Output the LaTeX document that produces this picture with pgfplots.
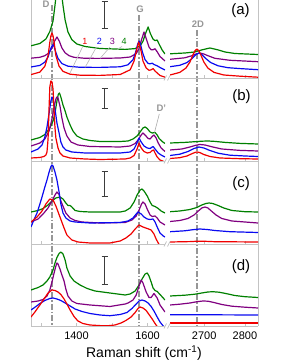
\documentclass[border=0pt]{standalone}
\usepackage{pgfplots}
\pgfplotsset{compat=1.18}
\usepackage{fontspec}
\setmainfont{Liberation Sans}
\definecolor{cred}{RGB}{240,0,0}
\definecolor{cblue}{RGB}{10,10,240}
\definecolor{cpurple}{RGB}{128,0,128}
\definecolor{cgreen}{RGB}{0,128,0}
\definecolor{axgray}{RGB}{195,195,195}
\definecolor{lgray}{RGB}{150,150,150}
\definecolor{bargray}{RGB}{60,60,60}
\pgfplotsset{
  mybase/.style={scale only axis, anchor=south west, ymin=0, ytick=\empty, no markers,
    axis x line*=bottom,
    every outer x axis line/.append style={-},
    every outer y axis line/.append style={-},
    axis line style={axgray, line width=0.8pt, -},
    tick style={axgray, line width=0.8pt}, tick align=inside, major tick length=3pt,
    xticklabels={,,,},
    xticklabel style={font=\fontsize{11}{12}\selectfont, yshift=-2pt},
    every axis plot/.append style={line width=1.2pt, line join=round}},
  myL/.style={mybase, width=134pt, xmin=1272, xmax=1649, axis y line*=left, xtick={1300,1400,1500,1600}},
  myR/.style={mybase, width=88pt, xmin=2616, xmax=2832, axis y line*=right, xtick={2700,2800}},
}
\begin{document}
\begin{tikzpicture}
\useasboundingbox (0pt,0pt) rectangle (281pt,363pt);
% dash-dot guide lines
\begin{scope}[x=1pt,y=1pt,lgray, line width=1.2pt, dash pattern=on 6pt off 2pt on 1.5pt off 2pt]
\draw (52,358) -- (52,37);
\draw (139,348) -- (139,37);
\draw (197,333) -- (197,37);
\end{scope}
% ---------------- panel (a)
\begin{axis}[myL, at={(31pt,285pt)}, height=78pt, ymax=78]
\addplot[cgreen] coordinates {(1272,32.2) (1297,34.5) (1314,39) (1325,46.5) (1334,57) (1339.5,72.7) (1345,90) (1351,98) (1356,90) (1362,72.7) (1368,58) (1376,46) (1387,38.3) (1401,34) (1424,31.5) (1466,29.5) (1508.5,29) (1537,28.6) (1565,29.4) (1579,32.1) (1587,36.7) (1594,44.3) (1601.5,51) (1608,44.3) (1615.5,38.8) (1621,37.4) (1627,38) (1632.5,33.8) (1641,28) (1649,24)};
\addplot[cpurple] coordinates {(1272,19.8) (1297,20.7) (1311,22.3) (1323,25.2) (1331,30) (1338,36.6) (1345,41) (1352,36.6) (1359,30) (1368,25.2) (1379,22.3) (1393,20.7) (1424,19.7) (1466,19.6) (1523,20) (1551,21) (1568,24.4) (1576,29.5) (1583,38.4) (1590,46) (1597,38.4) (1604,30.9) (1610,28.2) (1615.5,28.3) (1621,29.2) (1627,26.2) (1635,21.5) (1649,17)};
\addplot[cblue] coordinates {(1272,11) (1297,12.6) (1311,15.9) (1320,21) (1325,26.9) (1330,31.5) (1333,33) (1337,31.5) (1341,26.6) (1348,19.6) (1359,14.4) (1376,11.8) (1410,10.7) (1466,10.6) (1523,11.2) (1545,13.2) (1559,18.3) (1566,25.3) (1572,33.7) (1576,37) (1580,33.7) (1586,25.3) (1593,18.3) (1601.5,14.5) (1607,14.2) (1613,14.8) (1618,13.5) (1627,12.2) (1635,10.5) (1649,8)};
\addplot[cred] coordinates {(1272,3.4) (1297,5.9) (1311,11.8) (1320,22.4) (1325,35.7) (1328,42.2) (1331,45) (1334,42.2) (1337,35.7) (1342,22.4) (1351,11.8) (1362,6.6) (1382,3.8) (1410,2.8) (1466,2.6) (1523,3.5) (1551,8.2) (1562,17) (1568,26.5) (1575,36) (1582,26.5) (1587,17) (1596,10) (1604,7.7) (1610,8.2) (1615.5,9.4) (1621,7) (1627,5) (1635,2.5) (1649,0.8)};
\end{axis}
\begin{axis}[myR, at={(170pt,285pt)}, height=78pt, ymax=78]
\addplot[cgreen] coordinates {(2616,24.2) (2652.5,25) (2677,26) (2694,28.1) (2714,30) (2734,28.1) (2751,26) (2775,24.5) (2832,23.5)};
\addplot[cpurple] coordinates {(2616,18.7) (2652.5,20.2) (2670,22.3) (2680,24) (2689,25) (2699,24) (2709,22.3) (2726,19.7) (2763,17.7) (2832,16.3)};
\addplot[cblue] coordinates {(2616,11.3) (2640,12.7) (2657.5,15.4) (2670,19.4) (2680,23.5) (2687,25) (2694,23.5) (2704,19.4) (2716,15.4) (2734,12.2) (2758,10.3) (2788,9.4) (2832,8.3)};
\addplot[cred] coordinates {(2616,3) (2640,5.6) (2655,9.9) (2665,16) (2672,22.8) (2677,27.1) (2682,29) (2687,27.1) (2692,22.8) (2699,16) (2709,9.9) (2724,5.6) (2748,3) (2788,1.8) (2832,0.8)};
\end{axis}
% ---------------- panel (b)
\begin{axis}[myL, at={(31pt,202pt)}, height=83pt, ymax=83]
\addplot[cgreen] coordinates {(1272,21) (1297,23.5) (1311,26.5) (1325,33) (1334,40) (1339.5,48) (1345,60) (1349,67) (1352,68) (1356,64) (1362,56) (1368,50) (1373,44) (1382,36) (1390,30) (1401,25) (1418,22) (1438,20.5) (1466,19.5) (1523,19.5) (1545,20) (1559,22) (1570.5,25) (1579,29) (1587,33) (1593,34) (1599,32.5) (1607,29) (1613,28) (1621,28.5) (1627,26) (1632.5,22.5) (1641,19.5) (1649,17.5)};
\addplot[cpurple] coordinates {(1272,15) (1297,18) (1311,22) (1323,30) (1331,42) (1337,54) (1342,62) (1345,64) (1348,63) (1353.5,55) (1359,43) (1365,33) (1373,25) (1384.5,19) (1404,16) (1438,14.5) (1523,14) (1551,15) (1565,17.5) (1573,21) (1582,26) (1587,28) (1593,26) (1601.5,22.5) (1607,22) (1613,24.5) (1618,26) (1624,23) (1630,18) (1638,13) (1649,9.5)};
\addplot[cblue] coordinates {(1272,9) (1292,12) (1303,16) (1311,24) (1317,34) (1323,48) (1328,60) (1331,64) (1334,62) (1339.5,52) (1345,38) (1351,28) (1356,19) (1362,14) (1370,11) (1387,9) (1424,8) (1523,8) (1551,9) (1562,12) (1569,17) (1576,23) (1582,19) (1590,15) (1599,13) (1607,12.5) (1615.5,14.5) (1621,12) (1630,8) (1638,6) (1649,4)};
\addplot[cred] coordinates {(1272,3) (1297,3.5) (1308.5,4.5) (1314,6) (1317,9) (1320,22) (1323,55) (1325,74) (1328,80) (1331,79) (1334,72) (1337,50) (1339.5,33) (1342,23) (1348,13) (1353.5,8) (1362,5) (1382,3) (1424,2) (1466,1.5) (1537,2) (1551,3) (1562,5.5) (1570.5,12) (1576,18) (1582,13) (1590,9.5) (1599,8) (1607,8.5) (1613,10.5) (1617,11) (1621,8) (1627,4) (1635,1) (1649,-1)};
\end{axis}
\begin{axis}[myR, at={(170pt,202pt)}, height=83pt, ymax=83]
\addplot[cgreen] coordinates {(2616,18) (2652.5,18.6) (2677,19.3) (2694,19.8) (2709,20) (2726,19.6) (2751,18.6) (2788,17.6) (2832,17)};
\addplot[cpurple] coordinates {(2616,11) (2645,12) (2665,14) (2680,15.8) (2689,16.5) (2702,16) (2719,14.2) (2743,12) (2788,10.6) (2832,10)};
\addplot[cblue] coordinates {(2616,5.5) (2640,6.8) (2660,9.5) (2675,12.5) (2687,14) (2699,13) (2714,10.5) (2734,7.8) (2763,5.8) (2800,5) (2832,4.5)};
\addplot[cred] coordinates {(2616,2.5) (2640,3.3) (2657.5,5) (2670,7.3) (2677,8.5) (2682,9) (2689,8.5) (2699,6.5) (2714,4.5) (2739,3) (2788,2.3) (2832,2)};
\end{axis}
% ---------------- panel (c)
\begin{axis}[myL, at={(31pt,119pt)}, height=83pt, ymax=83]
\addplot[cgreen] coordinates {(1272,32) (1292,33.5) (1306,35.5) (1320,39) (1331,43) (1342,46) (1353.5,47) (1362,45) (1370,41) (1376,38.5) (1382,38.5) (1387,37) (1396,33.5) (1410,32.5) (1438,32) (1523,32) (1537,33) (1551,36) (1562,42) (1570.5,49) (1579,54) (1584.5,55) (1590,53) (1599,48) (1607,42) (1613,38.5) (1621,37.5) (1630,35.5) (1638,33) (1649,31)};
\addplot[cpurple] coordinates {(1272,22) (1292,25) (1306,30) (1320,36) (1331,43) (1339.5,49) (1345,52) (1351,49.5) (1356,43) (1363,37) (1370,31) (1382,26) (1396,23.5) (1415.5,22) (1466,21) (1537,21.5) (1556,24) (1568,28) (1576,34) (1583,40) (1587,42) (1593,40) (1600,34) (1607,29) (1613,27.5) (1621,28) (1627,26) (1635,22) (1649,19)};
\addplot[cblue] coordinates {(1272,17) (1280,24) (1289,31) (1297,40) (1303,47) (1311,57) (1317,64) (1323,72) (1328,77.5) (1331,79) (1334,78) (1339.5,72) (1345,64) (1351,52) (1356,40) (1362,31) (1370,26) (1382,23) (1396,22) (1438,21) (1523,21.5) (1545,23) (1559,26) (1568,30) (1573,32) (1582,30) (1590,27) (1599,25) (1607,24.5) (1615.5,25) (1621,22) (1627,17) (1635,11) (1644,8) (1649,7)};
\addplot[cred] coordinates {(1272,22) (1289,27) (1303,33) (1314,40) (1325,45) (1334,44) (1342,38) (1353.5,27) (1365,16) (1373,9) (1387,4) (1404,2) (1438,1) (1494,1) (1523,3) (1539,6) (1553.5,10) (1565,15) (1576,19) (1587,17) (1599,15.5) (1610,14) (1618,10) (1624,5) (1630,1) (1635,-2)};
\end{axis}
\begin{axis}[myR, at={(170pt,119pt)}, height=83pt, ymax=83]
\addplot[cgreen] coordinates {(2616,32.3) (2640,33) (2665,34.5) (2682,36.5) (2694,39) (2704,40.5) (2712,41) (2721,40.5) (2734,38.5) (2748,36) (2768,33.5) (2800,32.3) (2832,32)};
\addplot[cpurple] coordinates {(2616,22.5) (2640,23.5) (2660,25.5) (2675,29) (2687,33.5) (2694,36) (2702,37) (2709,36) (2716,33.5) (2729,29) (2743,25.5) (2768,23) (2800,22) (2832,21)};
\addplot[cblue] coordinates {(2616,12.3) (2652.5,13.2) (2672,14.3) (2689,15) (2707,14.5) (2726,13.5) (2763,12.3) (2832,11.5)};
\addplot[cred] coordinates {(2616,2) (2665,2.4) (2684,2.8) (2702,2.7) (2726,2.3) (2832,2)};
\end{axis}
% ---------------- panel (d)
\begin{axis}[myL, at={(31pt,37pt)}, height=82pt, ymax=82, xticklabels={,1400,,1600}]
\addplot[cgreen] coordinates {(1272,36) (1292,38.5) (1306,41) (1317,45) (1325,49) (1334,56) (1339.5,63) (1345,68.5) (1351,72.5) (1356,74) (1362,72) (1368,66) (1373,58) (1382,50) (1393,45) (1410,41) (1430,37.5) (1452,35) (1494,33) (1537,31) (1551,32) (1565,35) (1576,41) (1584.5,47) (1593,52) (1599,53) (1604,50) (1610,44) (1615.5,38) (1621,35.5) (1627,34.5) (1635,31.5) (1649,26)};
\addplot[cpurple] coordinates {(1272,24) (1292,25) (1306,26.5) (1317,30) (1325,36) (1331,44) (1337,53) (1342,60) (1345,63) (1348,62) (1353.5,57) (1359,51) (1365,45) (1370,37) (1376,30) (1387,25) (1401,22.5) (1438,21) (1494,19.5) (1537,22) (1545,23) (1559,26) (1568,31) (1576,40) (1582,46) (1587,43) (1596,34) (1604,28.5) (1610,28.5) (1618,32.5) (1627,28) (1635,21) (1649,14)};
\addplot[cblue] coordinates {(1272,16) (1286,19.5) (1297,22.5) (1311,25.5) (1325,27.5) (1334,28) (1345,27) (1356,25.5) (1368,23) (1382,20) (1396,17) (1415.5,14.5) (1438,12.5) (1466,11) (1494,10.3) (1523,11.5) (1542,13.5) (1556,17.5) (1568,22) (1576,25) (1584.5,26) (1593,25) (1601.5,23) (1610,19.5) (1618,15) (1627,9) (1635,4) (1644,0) (1649,-2)};
\addplot[cred] coordinates {(1272,9) (1283,14) (1297,21) (1308.5,27) (1320,33) (1331,36) (1339.5,35.5) (1348,34) (1356,31.5) (1365,27) (1373,22) (1382,16) (1393,9.5) (1404,5) (1418,2.5) (1438,1) (1466,0.4) (1489,0.3) (1508.5,1) (1525,3) (1539,5.5) (1553.5,9) (1565,13.5) (1573,17.5) (1579,19) (1587,18) (1596,15.5) (1604,11.5) (1613,7) (1621,2.5) (1630,-2) (1641,-6)};
\end{axis}
\begin{axis}[myR, at={(170pt,37pt)}, height=82pt, ymax=82, xticklabels={2700,2800}]
\addplot[cgreen] coordinates {(2616,30) (2652.5,30.8) (2677,31.8) (2697,33.2) (2709,34) (2721,34.3) (2736,33.8) (2753,32.5) (2775,30.5) (2800,29.3) (2832,28.5)};
\addplot[cpurple] coordinates {(2616,21) (2640,21.8) (2665,23) (2682,24.3) (2697,25) (2709,24.8) (2724,23.5) (2743,21.5) (2768,19.8) (2800,18.8) (2832,18)};
\addplot[cblue] coordinates {(2616,11.2) (2714,11.2) (2832,11)};
\addplot[cred] coordinates {(2616,3) (2700,3) (2832,3)};
\end{axis}
\begin{scope}[x=1pt,y=1pt]
% break marks
\begin{scope}[axgray, line width=0.8pt]
\foreach \T in {285,202,119,37} {
  \draw (164,\T-2.5) -- (166.5,\T+2.5);
  \draw (167.5,\T-2.5) -- (170,\T+2.5);
}
\end{scope}
% scale bars
\begin{scope}[bargray, line width=1pt]
\foreach \a/\b in {361.3/334.7, 274.7/254, 191/166, 106/78} {
  \draw (104.5,\a) -- (104.5,\b);
  \draw (101.5,\a) -- (107.5,\a);
  \draw (101.5,\b) -- (107.5,\b);
}
\end{scope}
% panel letters
\begin{scope}[font=\fontsize{15}{15}\selectfont]
\node[anchor=base] at (240.5,348.3) {(a)};
\node[anchor=base] at (241.5,262.4) {(b)};
\node[anchor=base] at (241,175) {(c)};
\node[anchor=base] at (241,92) {(d)};
\end{scope}
% band labels
\begin{scope}[lgray, font=\bfseries\fontsize{9.5}{10}\selectfont]
\node[anchor=base] at (46,355) {D};
\node at (140,353.3) {G};
\node at (198,338.5) {2D};
\node at (161.3,255) {D'};
\end{scope}
\draw[lgray!80, line width=0.6pt] (159.3,249) -- (154.5,230.5);
% curve numbers
\begin{scope}[font=\fontsize{9}{10}\selectfont]
\node[cred] at (85,321.3) {1};
\node[cblue] at (99.3,321.3) {2};
\node[cpurple] at (112.3,321.3) {3};
\node[cgreen] at (124,321.3) {4};
\end{scope}
\begin{scope}[lgray!70, line width=0.6pt]
\draw (82.5,316) -- (70,290);
\draw (96.5,316) -- (85,295.5);
\draw (110,316) -- (100,304.5);
\draw (122,316.5) -- (117,313.5);
\end{scope}
\node[anchor=base, font=\fontsize{14}{14}\selectfont] at (144,5.7) {Raman shift (cm\textsuperscript{-1})};
\end{scope}
\end{tikzpicture}
\end{document}
